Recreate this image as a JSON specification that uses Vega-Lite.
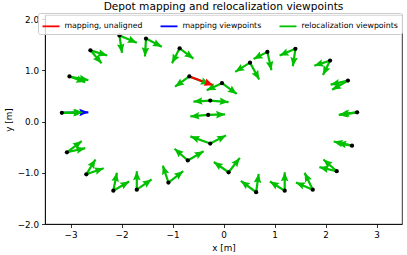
{
  "$schema": "https://vega.github.io/schema/vega-lite/v6.json",
  "width": 357,
  "height": 209,
  "autosize": {"type": "none"},
  "padding": {"left": 45, "top": 15, "right": 5, "bottom": 31},
  "background": "white",
  "title": {"text": "Depot mapping and relocalization viewpoints", "anchor": "middle", "fontSize": 10.6, "fontWeight": "normal", "font": "DejaVu Sans", "color": "black", "offset": 0, "baseline": "bottom", "dy": 10.5},
  "config": {
    "font": "DejaVu Sans",
    "view": {"stroke": "black", "strokeWidth": 0.8},
    "axis": {"domainColor": "black", "tickColor": "black", "labelColor": "black", "titleColor": "black", "labelFont": "DejaVu Sans", "titleFont": "DejaVu Sans", "labelFontSize": 8.8, "titleFontSize": 8.8, "titleFontWeight": "normal", "tickSize": 3.5, "labelPadding": 3, "grid": false, "domainWidth": 0.8, "tickWidth": 0.8, "labelFlush": false, "labelOverlap": false},
    "legend": {"orient": "none", "legendX": -7, "legendY": -2, "direction": "horizontal", "columns": 3, "symbolType": "stroke", "symbolSize": 289, "symbolStrokeWidth": 1.8, "labelFont": "DejaVu Sans", "labelFontSize": 7.8, "labelColor": "black", "labelOffset": 4, "columnPadding": 14, "padding": 3.5, "fillColor": "rgba(255,255,255,0.8)", "strokeColor": "#cccccc", "cornerRadius": 2, "labelLimit": 300}
  },
  "datasets": {
    "arrows": [
      {"series": "mapping viewpoints", "x": -3.17, "y": 0.17, "tx": -2.65, "ty": 0.18, "angle": 88.9},
      {"series": "relocalization viewpoints", "x": -2.61, "y": 1.39, "tx": -2.28, "ty": 1.29, "angle": 106.9},
      {"series": "relocalization viewpoints", "x": -2.61, "y": 1.39, "tx": -2.39, "ty": 1.14, "angle": 138.7},
      {"series": "relocalization viewpoints", "x": -2.04, "y": 1.68, "tx": -1.70, "ty": 1.54, "angle": 112.4},
      {"series": "relocalization viewpoints", "x": -2.04, "y": 1.68, "tx": -1.99, "ty": 1.34, "angle": 171.6},
      {"series": "relocalization viewpoints", "x": -1.52, "y": 1.62, "tx": -1.21, "ty": 1.46, "angle": 117.3},
      {"series": "relocalization viewpoints", "x": -1.52, "y": 1.62, "tx": -1.54, "ty": 1.27, "angle": 183.3},
      {"series": "relocalization viewpoints", "x": -0.86, "y": 1.43, "tx": -0.59, "ty": 1.23, "angle": 126.5},
      {"series": "relocalization viewpoints", "x": -0.86, "y": 1.43, "tx": -1.01, "ty": 1.14, "angle": 207.3},
      {"series": "relocalization viewpoints", "x": -3.02, "y": 0.88, "tx": -2.65, "ty": 0.81, "angle": 100.7},
      {"series": "relocalization viewpoints", "x": -3.02, "y": 0.88, "tx": -2.71, "ty": 0.77, "angle": 109.5},
      {"series": "relocalization viewpoints", "x": -0.67, "y": 0.88, "tx": -0.95, "ty": 0.68, "angle": 234.5},
      {"series": "relocalization viewpoints", "x": -0.67, "y": 0.88, "tx": -0.27, "ty": 0.73, "angle": 110.6},
      {"series": "relocalization viewpoints", "x": -0.03, "y": 0.75, "tx": -0.33, "ty": 0.61, "angle": 245.0},
      {"series": "relocalization viewpoints", "x": -0.03, "y": 0.75, "tx": 0.26, "ty": 0.54, "angle": 125.9},
      {"series": "relocalization viewpoints", "x": -0.26, "y": 0.41, "tx": -0.59, "ty": 0.39, "angle": 266.5},
      {"series": "relocalization viewpoints", "x": -0.26, "y": 0.41, "tx": 0.10, "ty": 0.38, "angle": 94.8},
      {"series": "relocalization viewpoints", "x": -0.30, "y": 0.13, "tx": -0.65, "ty": 0.10, "angle": 265.1},
      {"series": "relocalization viewpoints", "x": -0.30, "y": 0.13, "tx": 0.03, "ty": 0.14, "angle": 88.3},
      {"series": "relocalization viewpoints", "x": 0.52, "y": 1.15, "tx": 0.23, "ty": 0.97, "angle": 238.2},
      {"series": "relocalization viewpoints", "x": 0.52, "y": 1.15, "tx": 0.70, "ty": 0.82, "angle": 151.4},
      {"series": "relocalization viewpoints", "x": 0.86, "y": 1.36, "tx": 0.59, "ty": 1.22, "angle": 242.6},
      {"series": "relocalization viewpoints", "x": 0.86, "y": 1.36, "tx": 0.94, "ty": 1.00, "angle": 167.5},
      {"series": "relocalization viewpoints", "x": 1.41, "y": 1.42, "tx": 1.10, "ty": 1.29, "angle": 247.2},
      {"series": "relocalization viewpoints", "x": 1.41, "y": 1.42, "tx": 1.36, "ty": 1.08, "angle": 188.4},
      {"series": "relocalization viewpoints", "x": 2.09, "y": 1.19, "tx": 1.78, "ty": 1.09, "angle": 252.1},
      {"series": "relocalization viewpoints", "x": 2.09, "y": 1.19, "tx": 1.95, "ty": 0.91, "angle": 206.6},
      {"series": "relocalization viewpoints", "x": 2.44, "y": 0.80, "tx": 2.10, "ty": 0.72, "angle": 256.8},
      {"series": "relocalization viewpoints", "x": 2.44, "y": 0.80, "tx": 2.13, "ty": 0.62, "angle": 239.9},
      {"series": "relocalization viewpoints", "x": 2.62, "y": 0.18, "tx": 2.26, "ty": 0.13, "angle": 262.1},
      {"series": "relocalization viewpoints", "x": 2.62, "y": 0.18, "tx": 2.29, "ty": 0.14, "angle": 263.1},
      {"series": "relocalization viewpoints", "x": -3.17, "y": 0.17, "tx": -2.75, "ty": 0.18, "angle": 88.6},
      {"series": "relocalization viewpoints", "x": -3.17, "y": 0.17, "tx": -2.77, "ty": 0.17, "angle": 90},
      {"series": "relocalization viewpoints", "x": -3.07, "y": -0.60, "tx": -2.78, "ty": -0.38, "angle": 52.8},
      {"series": "relocalization viewpoints", "x": -3.07, "y": -0.60, "tx": -2.71, "ty": -0.52, "angle": 77.5},
      {"series": "relocalization viewpoints", "x": -2.69, "y": -1.03, "tx": -2.51, "ty": -0.74, "angle": 31.8},
      {"series": "relocalization viewpoints", "x": -2.69, "y": -1.03, "tx": -2.35, "ty": -0.91, "angle": 70.6},
      {"series": "relocalization viewpoints", "x": -2.16, "y": -1.35, "tx": -2.09, "ty": -1.00, "angle": 11.3},
      {"series": "relocalization viewpoints", "x": -2.16, "y": -1.35, "tx": -1.85, "ty": -1.17, "angle": 59.9},
      {"series": "relocalization viewpoints", "x": -1.70, "y": -1.33, "tx": -1.70, "ty": -0.97, "angle": 0},
      {"series": "relocalization viewpoints", "x": -1.70, "y": -1.33, "tx": -1.41, "ty": -1.13, "angle": 55.4},
      {"series": "relocalization viewpoints", "x": -1.08, "y": -1.19, "tx": -1.19, "ty": -0.86, "angle": 341.6},
      {"series": "relocalization viewpoints", "x": -1.08, "y": -1.19, "tx": -0.79, "ty": -0.97, "angle": 52.8},
      {"series": "relocalization viewpoints", "x": -0.70, "y": -0.76, "tx": -0.96, "ty": -0.53, "angle": 311.5},
      {"series": "relocalization viewpoints", "x": -0.70, "y": -0.76, "tx": -0.39, "ty": -0.58, "angle": 59.9},
      {"series": "relocalization viewpoints", "x": -0.26, "y": -0.43, "tx": -0.65, "ty": -0.29, "angle": 289.7},
      {"series": "relocalization viewpoints", "x": -0.26, "y": -0.43, "tx": 0.05, "ty": -0.27, "angle": 62.7},
      {"series": "relocalization viewpoints", "x": 0.10, "y": -0.99, "tx": -0.19, "ty": -0.79, "angle": 304.6},
      {"series": "relocalization viewpoints", "x": 0.10, "y": -0.99, "tx": 0.32, "ty": -0.71, "angle": 38.2},
      {"series": "relocalization viewpoints", "x": 0.64, "y": -1.38, "tx": 0.34, "ty": -1.16, "angle": 306.3},
      {"series": "relocalization viewpoints", "x": 0.64, "y": -1.38, "tx": 0.69, "ty": -1.02, "angle": 7.9},
      {"series": "relocalization viewpoints", "x": 1.20, "y": -1.35, "tx": 0.91, "ty": -1.17, "angle": 301.8},
      {"series": "relocalization viewpoints", "x": 1.20, "y": -1.35, "tx": 1.20, "ty": -0.99, "angle": 0},
      {"series": "relocalization viewpoints", "x": 1.75, "y": -1.33, "tx": 1.42, "ty": -1.19, "angle": 293.0},
      {"series": "relocalization viewpoints", "x": 1.75, "y": -1.33, "tx": 1.59, "ty": -1.00, "angle": 334.1},
      {"series": "relocalization viewpoints", "x": 2.22, "y": -0.97, "tx": 1.88, "ty": -0.89, "angle": 283.2},
      {"series": "relocalization viewpoints", "x": 2.22, "y": -0.97, "tx": 1.96, "ty": -0.74, "angle": 311.5},
      {"series": "relocalization viewpoints", "x": 2.52, "y": -0.47, "tx": 2.16, "ty": -0.39, "angle": 283.2},
      {"series": "relocalization viewpoints", "x": 2.52, "y": -0.47, "tx": 2.23, "ty": -0.42, "angle": 279.8},
      {"series": "mapping, unaligned", "x": -0.67, "y": 0.88, "tx": -0.20, "ty": 0.71, "angle": 109.9}
    ],
    "points": [
      {"x": -2.61, "y": 1.39}, {"x": -2.04, "y": 1.68}, {"x": -1.52, "y": 1.62}, {"x": -0.86, "y": 1.43},
      {"x": -3.02, "y": 0.88}, {"x": -0.67, "y": 0.88}, {"x": -0.03, "y": 0.75}, {"x": -0.26, "y": 0.41},
      {"x": -0.30, "y": 0.13}, {"x": 0.52, "y": 1.15}, {"x": 0.86, "y": 1.36}, {"x": 1.41, "y": 1.42},
      {"x": 2.09, "y": 1.19}, {"x": 2.44, "y": 0.80}, {"x": 2.62, "y": 0.18}, {"x": -3.17, "y": 0.17},
      {"x": -3.07, "y": -0.60}, {"x": -2.69, "y": -1.03}, {"x": -2.16, "y": -1.35}, {"x": -1.70, "y": -1.33},
      {"x": -1.08, "y": -1.19}, {"x": -0.70, "y": -0.76}, {"x": -0.26, "y": -0.43}, {"x": 0.10, "y": -0.99},
      {"x": 0.64, "y": -1.38}, {"x": 1.20, "y": -1.35}, {"x": 1.75, "y": -1.33}, {"x": 2.22, "y": -0.97},
      {"x": 2.52, "y": -0.47}
    ]
  },
  "layer": [
    {
      "data": {"name": "arrows"},
      "mark": {"type": "rule", "strokeWidth": 2.2, "strokeCap": "butt"},
      "encoding": {
        "x": {"field": "x", "type": "quantitative", "scale": {"domain": [-3.5, 3.5], "nice": false, "zero": false}, "axis": {"title": "x [m]", "values": [-3, -2, -1, 0, 1, 2, 3], "format": "d"}},
        "y": {"field": "y", "type": "quantitative", "scale": {"domain": [-2, 2.08], "nice": false, "zero": false}, "axis": {"title": "y [m]", "values": [-2, -1.5, -1, -0.5, 0, 0.5, 1, 1.5, 2], "format": ".1f"}},
        "x2": {"field": "tx"},
        "y2": {"field": "ty"},
        "color": {"field": "series", "type": "nominal", "scale": {"domain": ["mapping, unaligned", "mapping viewpoints", "relocalization viewpoints"], "range": ["#ff0000", "#0000ff", "#00c000"]}, "legend": {"title": null}}
      }
    },
    {
      "data": {"name": "arrows"},
      "mark": {"type": "point", "shape": "M0,0L-0.42,1L0,0.85L0.42,1Z", "filled": true, "size": 324, "opacity": 1, "strokeWidth": 0},
      "encoding": {
        "x": {"field": "tx", "type": "quantitative"},
        "y": {"field": "ty", "type": "quantitative"},
        "angle": {"field": "angle", "type": "quantitative", "scale": null},
        "color": {"field": "series", "type": "nominal", "legend": null}
      }
    },
    {
      "data": {"name": "points"},
      "mark": {"type": "circle", "color": "black", "size": 18, "opacity": 1},
      "encoding": {
        "x": {"field": "x", "type": "quantitative"},
        "y": {"field": "y", "type": "quantitative"}
      }
    }
  ]
}
